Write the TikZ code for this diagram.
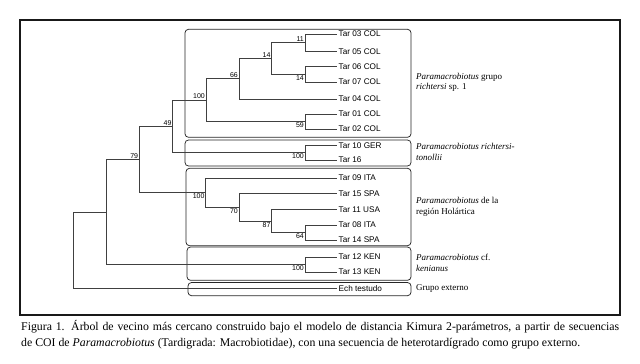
\documentclass[tikz,border=0pt]{standalone}
\usepackage{fontspec}
\setmainfont{Liberation Serif}
\newfontfamily\taxfont{Liberation Sans}
\begin{document}
\begin{tikzpicture}[x=1pt,y=-1pt,
  br/.style={draw=black!75, line width=0.75pt},
  clbox/.style={draw=black!85, line width=0.75pt, rounded corners=3.5pt},
  taxon/.style={anchor=west, inner sep=1.5pt, font=\taxfont\fontsize{8.2}{9}\selectfont},
  bsup/.style={inner sep=1pt, font=\taxfont\fontsize{7}{8}\selectfont, anchor=south east},
  bsdn/.style={inner sep=1pt, font=\taxfont\fontsize{7}{8}\selectfont, anchor=north east},
  clade/.style={anchor=west, align=left, inner sep=0pt, font=\fontsize{9}{10.5}\selectfont},
  captext/.style={anchor=north west, inner sep=0pt, text width=598pt, align=justify, font=\fontsize{11.8}{16}\selectfont}]
\useasboundingbox (0,0) rectangle (640,364);
% outer frame
\draw[line width=1.1pt, draw=black!90] (20,20) rectangle (620,315);
% clade boxes
\draw[clbox] (185,29.3) rectangle (411,137.3);
\draw[clbox] (185,140) rectangle (411,166);
\draw[clbox] (186,168.3) rectangle (411,245.7);
\draw[clbox] (187,247) rectangle (411,280.3);
\draw[clbox] (188,282.5) rectangle (411,295.7);
% leaves
\node[taxon] (L03) at (337,34) {Tar 03 COL};
\node[taxon] (L05) at (337,51.7) {Tar 05 COL};
\node[taxon] (L06) at (337,66.7) {Tar 06 COL};
\node[taxon] (L07) at (337,82) {Tar 07 COL};
\node[taxon] (L04) at (337,99) {Tar 04 COL};
\node[taxon] (L01) at (337,114) {Tar 01 COL};
\node[taxon] (L02) at (337,129) {Tar 02 COL};
\node[taxon] (L10) at (337,145.3) {Tar 10 GER};
\node[taxon] (L16) at (337,160) {Tar 16};
\node[taxon] (L09) at (337,178) {Tar 09 ITA};
\node[taxon] (L15) at (337,193.5) {Tar 15 SPA};
\node[taxon] (L11) at (337,209.5) {Tar 11 USA};
\node[taxon] (L08) at (337,225) {Tar 08 ITA};
\node[taxon] (L14) at (337,240) {Tar 14 SPA};
\node[taxon] (L12) at (337,257) {Tar 12 KEN};
\node[taxon] (L13) at (337,272) {Tar 13 KEN};
\node[taxon] (Ech) at (337,288.5) {Ech testudo};
% internal nodes
\coordinate (a) at (305,42.85);
\coordinate (b) at (305,74.35);
\coordinate (c) at (271.7,58.6);
\coordinate (d) at (239,78.8);
\coordinate (e) at (305,121.5);
\coordinate (f) at (206,100.15);
\coordinate (g) at (305,152.65);
\coordinate (h) at (172.7,126.4);
\coordinate (i) at (305,232.5);
\coordinate (j) at (271.7,221);
\coordinate (k) at (239,207.25);
\coordinate (l) at (205.7,192.6);
\coordinate (m) at (139.3,159.5);
\coordinate (n) at (305,264.5);
\coordinate (o) at (106,212);
\coordinate (r) at (73,250.25);
% branches
\draw[br] (a) |- (L03.west); \draw[br] (a) |- (L05.west);
\draw[br] (b) |- (L06.west); \draw[br] (b) |- (L07.west);
\draw[br] (c) |- (a); \draw[br] (c) |- (b);
\draw[br] (d) |- (c); \draw[br] (d) |- (L04.west);
\draw[br] (e) |- (L01.west); \draw[br] (e) |- (L02.west);
\draw[br] (f) |- (d); \draw[br] (f) |- (e);
\draw[br] (g) |- (L10.west); \draw[br] (g) |- (L16.west);
\draw[br] (h) |- (f); \draw[br] (h) |- (g);
\draw[br] (i) |- (L08.west); \draw[br] (i) |- (L14.west);
\draw[br] (j) |- (L11.west); \draw[br] (j) |- (i);
\draw[br] (k) |- (L15.west); \draw[br] (k) |- (j);
\draw[br] (l) |- (L09.west); \draw[br] (l) |- (k);
\draw[br] (m) |- (h); \draw[br] (m) |- (l);
\draw[br] (n) |- (L12.west); \draw[br] (n) |- (L13.west);
\draw[br] (o) |- (m); \draw[br] (o) |- (n);
\draw[br] (r) |- (o); \draw[br] (r) |- (Ech.west);
% bootstrap values
\node[bsup] (va) at (a) {11};
\node[bsdn] (vb) at (b) {14};
\node[bsup] (vc) at (c) {14};
\node[bsup] (vd) at (d) {66};
\node[bsdn] (ve) at (e) {59};
\node[bsup] (vf) at (f) {100};
\node[bsdn] (vg) at (g) {100};
\node[bsup] (vh) at (h) {49};
\node[bsdn] (vi) at (i) {64};
\node[bsdn] (vj) at (j) {87};
\node[bsdn] (vk) at (k) {70};
\node[bsdn] (vl) at (l) {100};
\node[bsup] (vm) at (m) {79};
\node[bsdn] (vn) at (n) {100};
% clade names
\node[clade] (c1) at (416,82.3) {\textit{Paramacrobiotus} grupo\\\textit{richtersi} sp. 1};
\node[clade] (c2) at (416,152) {\textit{Paramacrobiotus richtersi-}\\\textit{tonollii}};
\node[clade] (c3) at (416,207) {\textit{Paramacrobiotus} de la\\región Holártica};
\node[clade] (c4) at (416,263) {\textit{Paramacrobiotus} cf.\\\textit{kenianus}};
\node[clade] (c5) at (416,288.5) {Grupo externo};
% caption
\node[captext] (capt) at (21,320) {Figura 1. Árbol de vecino más cercano construido bajo el modelo de distancia Kimura 2-parámetros, a partir de secuencias\linebreak de COI de \textit{Paramacrobiotus} (Tardigrada: Macrobiotidae), con una secuencia de heterotardígrado como grupo externo.};
\end{tikzpicture}
\end{document}
